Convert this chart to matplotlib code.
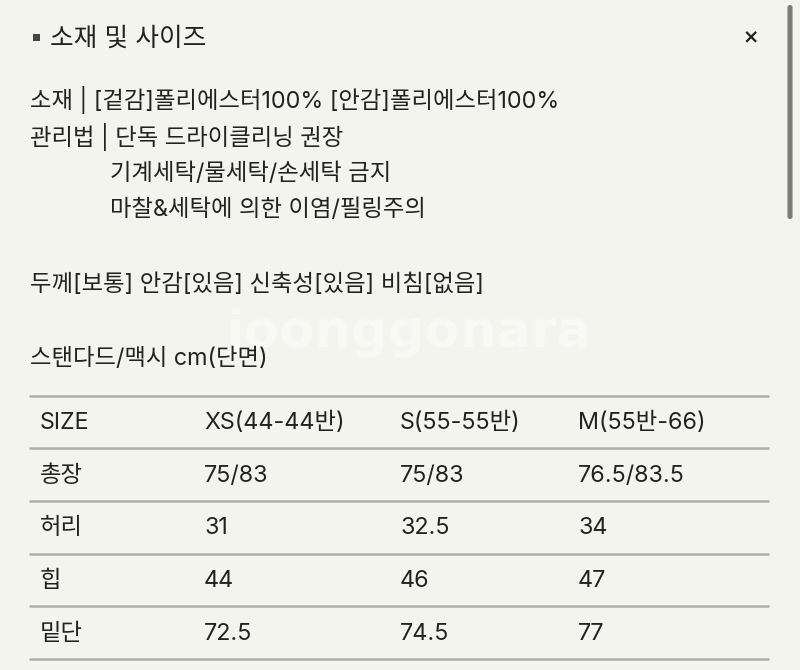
import matplotlib
matplotlib.use("Agg")
import matplotlib.pyplot as plt
from matplotlib.patches import FancyBboxPatch, Rectangle

plt.rcParams['font.family'] = ['Inter', 'Noto Sans CJK KR', 'DejaVu Sans']

BG = '#f4f4ef'
INK = '#222222'

title = '소재 및 사이즈'
info_lines = [
    (30, 100, '소재 | [겉감]폴리에스터100% [안감]폴리에스터100%'),
    (30, 137, '관리법 | 단독 드라이클리닝 권장'),
    (110, 174, '기계세탁/물세탁/손세탁 금지'),
    (110, 210, '마찰&세탁에 의한 이염/필링주의'),
    (30, 285, '두께[보통] 안감[있음] 신축성[있음] 비침[없음]'),
    (30, 359, '스탠다드/맥시 cm(단면)'),
]

columns = ['SIZE', 'XS(44-44반)', 'S(55-55반)', 'M(55반-66)']
rows = [
    ['총장', '75/83', '75/83', '76.5/83.5'],
    ['허리', '31', '32.5', '34'],
    ['힙', '44', '46', '47'],
    ['밑단', '72.5', '74.5', '77'],
]
col_x = [40, 204, 400, 578]
row_y = [423, 476, 528, 581, 634]
rule_y = [396, 448, 501, 554, 606, 659]

fig = plt.figure(figsize=(8, 6.7), dpi=100, facecolor=BG)
ax = fig.add_axes([0, 0, 1, 1])
ax.set_xlim(0, 800)
ax.set_ylim(670, 0)
ax.axis('off')

# 워터마크
ax.text(409, 333, 'joonggonara', fontsize=37, fontweight='bold', color='#f8f8f4',
        ha='center', va='center', family='DejaVu Sans', zorder=0)

# 제목
ax.add_patch(Rectangle((32.5, 34), 7, 7, color='#444444', lw=0))
ax.text(50, 39, title, fontsize=18.5, color=INK, va='center')
ax.text(751, 38, '×', fontsize=14, fontweight='bold', color=INK, ha='center', va='center',
        family='DejaVu Sans')

# 스크롤바
ax.add_patch(FancyBboxPatch((788.5, 6), 3, 212, boxstyle='round,pad=0,rounding_size=1.5',
                            fc='#7b7b78', ec='#7b7b78', lw=1.5))

for x, y, line in info_lines:
    ax.text(x, y, line, fontsize=16.8, color=INK, va='center')

for y in rule_y:
    ax.plot([29, 769], [y, y], color='#aeaeaa', lw=1.8, solid_capstyle='butt')

for x, label in zip(col_x, columns):
    ax.text(x, row_y[0], label, fontsize=16.8, color=INK, va='center')
for y, row in zip(row_y[1:], rows):
    for x, cell in zip(col_x, row):
        ax.text(x, y, cell, fontsize=16.8, color=INK, va='center')

fig.savefig('out.png', dpi=100, facecolor=BG)
